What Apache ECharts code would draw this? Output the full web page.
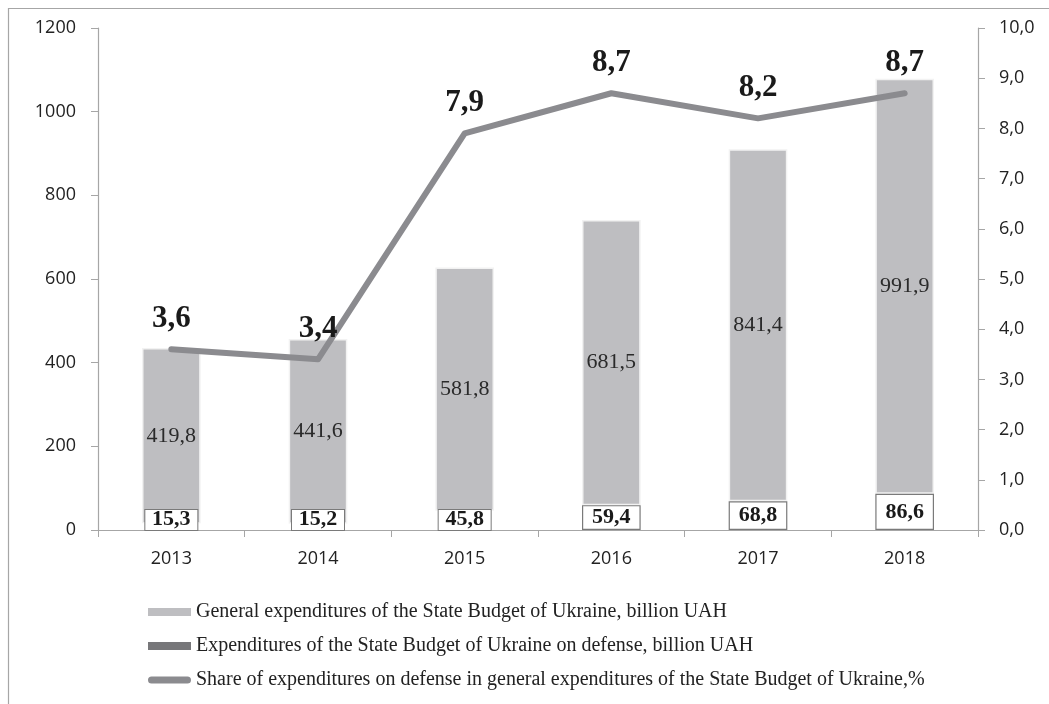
<!DOCTYPE html>
<html>
<head>
<meta charset="utf-8">
<script src="https://cdn.jsdelivr.net/npm/echarts@6/dist/echarts.min.js"></script>
<style>
  html, body { margin: 0; padding: 0; background: #fff; }
  #chart { width: 1049px; height: 704px; }
</style>
</head>
<body>
<div id="chart"></div>
<script>
// Years on the category axis
const years = ['2013', '2014', '2015', '2016', '2017', '2018'];
// General expenditures of the State Budget (billion UAH), stacked above defense
const generalExp = [419.8, 441.6, 581.8, 681.5, 841.4, 991.9];
// Expenditures on defense (billion UAH)
const defenseExp = [15.3, 15.2, 45.8, 59.4, 68.8, 86.6];
// Share of defense in general expenditures (%)
const defenseShare = [3.6, 3.4, 7.9, 8.7, 8.2, 8.7];
// Axis ranges
const leftMax = 1200, leftStep = 200;
const rightMax = 10, rightStep = 1;

const seriesNames = [
  'General expenditures of the State Budget of Ukraine, billion UAH',
  'Expenditures of the State Budget of Ukraine on defense, billion UAH',
  'Share of expenditures on defense in general expenditures of the State Budget of Ukraine,%'
];

const comma = v => String(v).replace('.', ',');
const serif = '"Liberation Serif", "Times New Roman", serif';
const sans = '"Open Sans", "Noto Sans", sans-serif';

const gridTop = 28, gridBottom = 174;
const plotH = 704 - gridTop - gridBottom;

// Defense bars: white boxes; short bars get a minimum-height bordered label box
const defenseData = defenseExp.map(v => {
  const px = v / leftMax * plotH;
  const small = px < 22;
  return {
    value: v,
    itemStyle: small ? { borderWidth: 0 } : {},
    label: small ? {
      position: 'insideBottom', distance: 0,
      backgroundColor: '#fff', borderColor: '#7a7a7a', borderWidth: 1,
      width: 52, height: 20, lineHeight: 22
    } : { position: 'inside' }
  };
});

// Legend marker for the line series: a thick bar with round ends
const roundBar = 'path://M4,0 L44,0 A4,4 0 0 1 44,8 L4,8 A4,4 0 0 1 4,0 Z';

const chart = echarts.init(document.getElementById('chart'), null, { renderer: 'canvas' });
chart.setOption({
  backgroundColor: '#fff',
  animation: false,
  graphic: [{
    type: 'rect', silent: true,
    shape: { x: 8.5, y: 8.5, width: 1100, height: 800 },
    style: { fill: 'none', stroke: '#a6a6a6', lineWidth: 1.2 }
  }],
  grid: { left: 98, right: 71, top: gridTop, bottom: gridBottom },
  legend: {
    orient: 'vertical', left: 143, top: 597,
    itemWidth: 43, itemHeight: 8, itemGap: 14,
    textStyle: { fontFamily: serif, fontSize: 20, color: '#222' },
    data: [
      { name: seriesNames[0], icon: 'rect', itemStyle: { color: '#bebec1', borderWidth: 0 } },
      { name: seriesNames[1], icon: 'rect', itemStyle: { color: '#77777a', borderWidth: 0 } },
      { name: seriesNames[2], icon: roundBar, itemStyle: { color: '#8b8b8f', borderWidth: 0 } }
    ]
  },
  xAxis: {
    type: 'category', data: years,
    axisLine: { lineStyle: { color: '#a6a6a6', width: 1.2 } },
    axisTick: { show: true, length: 7, alignWithLabel: false, lineStyle: { color: '#a6a6a6' } },
    axisLabel: { fontFamily: sans, fontSize: 18, color: '#222', margin: 20 }
  },
  yAxis: [{
    type: 'value', min: 0, max: leftMax, interval: leftStep,
    splitLine: { show: false },
    axisLine: { show: true, lineStyle: { color: '#a6a6a6', width: 1.2 } },
    axisTick: { show: true, length: 7, lineStyle: { color: '#a6a6a6' } },
    axisLabel: { fontFamily: sans, fontSize: 18, color: '#222', margin: 22,
      formatter: v => String(v) }
  }, {
    type: 'value', min: 0, max: rightMax, interval: rightStep,
    splitLine: { show: false },
    axisLine: { show: true, lineStyle: { color: '#a6a6a6', width: 1.2 } },
    axisTick: { show: true, length: 7, lineStyle: { color: '#a6a6a6' } },
    axisLabel: { fontFamily: sans, fontSize: 18, color: '#222', margin: 21,
      formatter: v => v.toFixed(1).replace('.', ',') }
  }],
  series: [{
    name: seriesNames[1], type: 'bar', stack: 'budget', barWidth: '40%',
    z: 3,
    itemStyle: { color: '#fff', borderColor: '#7a7a7a', borderWidth: 1.2 },
    label: {
      show: true, fontFamily: serif, fontSize: 22, fontWeight: 'bold', color: '#1a1a1a',
      formatter: p => comma(p.value)
    },
    data: defenseData
  }, {
    name: seriesNames[0], type: 'bar', stack: 'budget', barWidth: '40%',
    z: 2,
    itemStyle: { color: '#bebec1', borderColor: '#f2f2f2', borderWidth: 1.5 },
    label: {
      show: true, position: 'inside', fontFamily: serif, fontSize: 22, color: '#2a2a2a',
      formatter: p => comma(p.value)
    },
    data: generalExp
  }, {
    name: seriesNames[2], type: 'line', yAxisIndex: 1, z: 5,
    symbol: 'circle', symbolSize: 1, showSymbol: true,
    itemStyle: { color: '#8b8b8f' },
    lineStyle: { color: '#8b8b8f', width: 6, cap: 'round', join: 'round' },
    label: {
      show: true, position: 'top', distance: 14,
      fontFamily: serif, fontSize: 31, fontWeight: 'bold', color: '#1a1a1a',
      formatter: p => comma(p.value)
    },
    data: defenseShare
  }]
});
</script>
</body>
</html>
